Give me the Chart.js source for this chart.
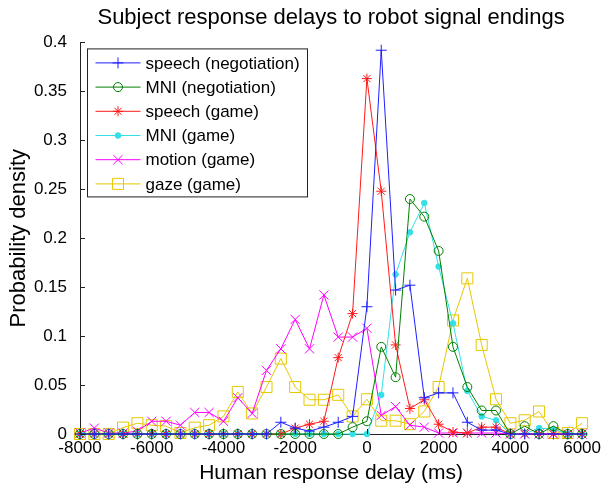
<!DOCTYPE html>
<html>
<head>
<meta charset="utf-8">
<script src="https://cdn.jsdelivr.net/npm/chart.js@4/dist/chart.umd.min.js"></script>
<style>
  html, body { margin: 0; padding: 0; background: #fff; }
  #wrap { width: 605px; height: 489px; }
</style>
</head>
<body>
<div id="wrap"><canvas id="myChart" width="605" height="489"></canvas></div>
<script>
// bin centres (ms)
const delays = [-8000, -7600, -7200, -6800, -6400, -6000, -5600, -5200, -4800, -4400,
    -4000, -3600, -3200, -2800, -2400, -2000, -1600, -1200, -800, -400,
    0, 400, 800, 1200, 1600, 2000, 2400, 2800, 3200, 3600,
    4000, 4400, 4800, 5200, 5600, 6000];

const speechNegotiation = [0, 0, 0, 0, 0, 0, 0, 0, 0, 0,
    0, 0, 0, 0, 0.012, 0.006, 0.003, 0.007, 0.012, 0.018,
    0.130, 0.392, 0.147, 0.152, 0.037, 0.042, 0.042, 0.012, 0.004, 0.004,
    0, 0, 0, 0, 0, 0];
const mniNegotiation = [0, 0, 0, 0, 0, 0, 0, 0, 0, 0,
    0, 0, 0, 0, 0, 0, 0, 0, 0, 0.007,
    0.013, 0.089, 0.058, 0.240, 0.222, 0.187, 0.089, 0.048, 0.024, 0.024,
    0, 0.008, 0, 0.008, 0, 0];
const speechGame = [0, 0, 0, 0, 0, 0, 0, 0, 0, 0,
    0, 0, 0, 0, 0, 0.006, 0.010, 0.013, 0.078, 0.123,
    0.363, 0.248, 0.091, 0.026, 0.035, 0.010, 0.002, 0.001, 0.007, 0.007,
    0, 0, 0, 0, 0, 0];
const mniGame = [0, 0, 0, 0, 0, 0, 0, 0, 0, 0,
    0, 0, 0, 0, 0, 0, 0, 0, 0, 0,
    0, 0.040, 0.163, 0.206, 0.236, 0.171, 0.113, 0.044, 0.018, 0.014,
    0, 0, 0.006, 0.005, 0, 0];
const motionGame = [0.001, 0.006, 0.001, 0.001, 0.003, 0.013, 0.013, 0.009, 0.022, 0.022,
    0.013, 0.037, 0.021, 0.065, 0.087, 0.117, 0.087, 0.142, 0.099, 0.099,
    0.108, 0.019, 0.028, 0.009, 0.007, 0.001, 0.001, 0.001, 0.001, 0.001,
    0, 0, 0, 0, 0, 0];
const gazeGame = [0, 0, 0, 0.0065, 0.011, 0.009, 0.008, 0.001, 0.0065, 0.009,
    0.018, 0.043, 0.021, 0.048, 0.077, 0.048, 0.035, 0.035, 0.040, 0.018,
    0.0355, 0.0136, 0.0136, 0.010, 0.023, 0.048, 0.116, 0.159, 0.091, 0.0355,
    0.011, 0.014, 0.023, 0.001, 0.001, 0.011];

const seriesNames = ["speech (negotiation)", "MNI (negotiation)", "speech (game)",
    "MNI (game)", "motion (game)", "gaze (game)"];
const xTicks = [-8000, -6000, -4000, -2000, 0, 2000, 4000, 6000];

const toPoints = values => values.map((v, i) => ({x: delays[i], y: v}));

const makeSet = (label, values, color, style, radius, fill) => ({
    label: label,
    data: toPoints(values),
    borderColor: color,
    backgroundColor: fill || "rgba(0,0,0,0)",
    borderWidth: 1,
    pointStyle: style,
    pointRadius: radius,
    pointBorderWidth: 1,
    pointBorderColor: color,
    pointBackgroundColor: fill || "rgba(0,0,0,0)",
    tension: 0,
    clip: false
});

Chart.defaults.font.family = "'Liberation Sans', Arial, Helvetica, sans-serif";
Chart.defaults.color = "#000";

// MATLAB-like inward ticks and a legend box inside the axes
const matlabAxes = {
    id: "matlabAxes",
    afterDraw(chart) {
        const ctx = chart.ctx;
        const a = chart.chartArea;
        const xs = chart.scales.x;
        const ys = chart.scales.y;
        ctx.save();
        ctx.strokeStyle = "#222";
        ctx.lineWidth = 1;
        ctx.beginPath();
        xs.ticks.forEach(t => {
            const px = Math.round(xs.getPixelForValue(t.value)) + 0.5;
            ctx.moveTo(px, a.bottom);
            ctx.lineTo(px, a.bottom - 5);
        });
        ys.ticks.forEach(t => {
            const py = Math.round(ys.getPixelForValue(t.value)) + 0.5;
            ctx.moveTo(a.left, py);
            ctx.lineTo(a.left + 5, py);
        });
        ctx.stroke();

        // legend
        const bx = a.left + 7.5, by = a.top + 6.5, bw = 220, bh = 148;
        ctx.fillStyle = "#fff";
        ctx.fillRect(bx, by, bw, bh);
        ctx.strokeStyle = "#222";
        ctx.strokeRect(bx, by, bw, bh);
        ctx.font = "17px 'Liberation Sans', Arial, sans-serif";
        ctx.textBaseline = "middle";
        ctx.textAlign = "left";
        chart.data.datasets.forEach((ds, i) => {
            const y = by + 14 + i * 24.2;
            ctx.strokeStyle = ds.borderColor;
            ctx.lineWidth = 1;
            ctx.beginPath();
            ctx.moveTo(bx + 8, y);
            ctx.lineTo(bx + 53, y);
            ctx.stroke();
            ctx.fillStyle = ds.pointBackgroundColor;
            Chart.helpers.drawPoint(ctx, {
                pointStyle: ds.pointStyle,
                radius: ds.pointRadius,
                borderWidth: 1,
                rotation: 0
            }, bx + 30.5, y);
            ctx.fillStyle = "#000";
            ctx.fillText(ds.label, bx + 58, y + 1);
        });
        ctx.restore();
    }
};

var ctx = document.getElementById("myChart");
var config = {
    type: "line",
    data: {
        datasets: [
            makeSet(seriesNames[0], speechNegotiation, "#1f1fff", "cross", 5.5),
            makeSet(seriesNames[1], mniNegotiation, "#008000", "circle", 4.5),
            makeSet(seriesNames[2], speechGame, "#ff1a1a", "star", 5),
            makeSet(seriesNames[3], mniGame, "#33e0e6", "circle", 2.8, "#33e0e6"),
            makeSet(seriesNames[4], motionGame, "#ff00ff", "crossRot", 6.5),
            makeSet(seriesNames[5], gazeGame, "#e6c800", "rect", 7.8)
        ]
    },
    options: {
        responsive: false,
        animation: false,
        layout: {
            padding: {left: 0, right: 21, top: 0, bottom: 0}
        },
        plugins: {
            legend: {display: false},
            tooltip: {enabled: false},
            title: {
                display: true,
                fullSize: false,
                text: "Subject response delays to robot signal endings",
                font: {size: 22, weight: "normal"},
                color: "#000",
                padding: {top: 5, bottom: 11}
            }
        },
        scales: {
            x: {
                type: "linear",
                min: -8000,
                max: 6000,
                afterBuildTicks: scale => {
                    scale.ticks = xTicks.map(v => ({value: v}));
                },
                afterFit: scale => { scale.height = 55; },
                grid: {display: false, drawTicks: false},
                border: {display: true, color: "#222", width: 1},
                ticks: {
                    font: {size: 17},
                    padding: 4,
                    maxRotation: 0,
                    callback: v => String(v)
                },
                title: {
                    display: true,
                    text: "Human response delay (ms)",
                    font: {size: 21},
                    padding: {top: 0, bottom: 3}
                }
            },
            y: {
                min: 0,
                max: 0.4,
                afterFit: scale => { scale.width = 80; },
                grid: {display: false, drawTicks: false},
                border: {display: true, color: "#222", width: 1},
                ticks: {
                    stepSize: 0.05,
                    font: {size: 17},
                    padding: 13,
                    callback: v => String(parseFloat(v.toFixed(2)))
                },
                title: {
                    display: true,
                    text: "Probability density",
                    font: {size: 22},
                    padding: {top: 6, bottom: 6}
                }
            }
        }
    },
    plugins: [matlabAxes]
};
var myChart = new Chart(ctx, config);
</script>
</body>
</html>
